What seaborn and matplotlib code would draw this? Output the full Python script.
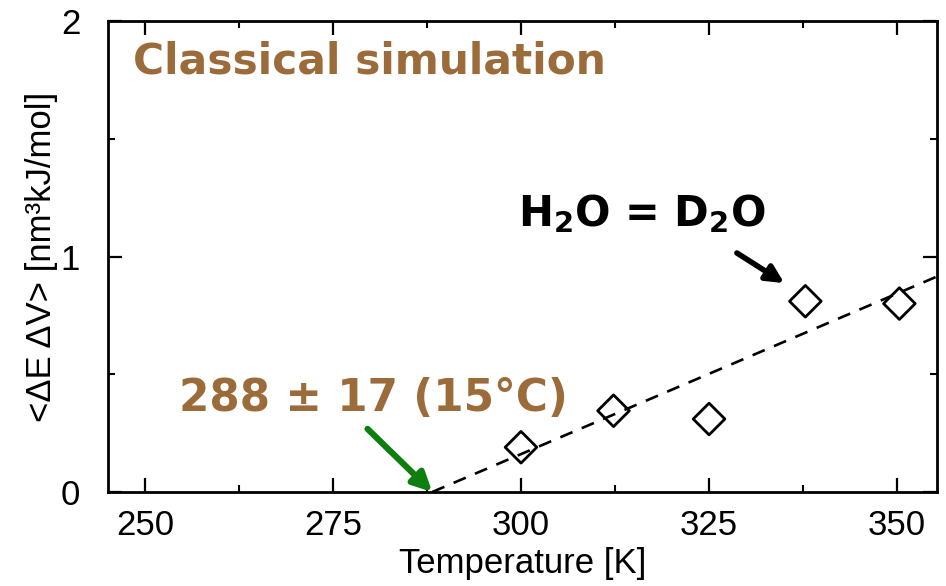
import matplotlib
matplotlib.use("Agg")
import matplotlib.pyplot as plt
import seaborn as sns
import pandas as pd
from matplotlib.ticker import MultipleLocator

# ---- data ----
temps = [300.0, 312.3, 325.0, 337.8, 350.3]
dEdV = [0.19, 0.345, 0.31, 0.81, 0.80]
fit_T = [288.2, 355.3]
fit_y = [0.0, 0.915]
x_ticks = [250, 275, 300, 325, 350]
y_ticks = [0, 1, 2]

brown = "#9C6B3A"
green = "#0E7E0E"

sns.set_theme(style="ticks")
plt.rcParams["font.family"] = ["Liberation Sans", "DejaVu Sans"]
plt.rcParams["mathtext.fontset"] = "dejavusans"
plt.rcParams["text.color"] = "black"
plt.rcParams["axes.labelcolor"] = "black"

fig = plt.figure(figsize=(9.46, 5.86), dpi=100)
ax = fig.add_axes([108 / 946, 1 - 492 / 586, (937 - 108) / 946, (492 - 21) / 586])

pts = pd.DataFrame({"T": temps, "v": dEdV})
fit = pd.DataFrame({"T": fit_T, "v": fit_y})

sns.lineplot(data=fit, x="T", y="v", ax=ax, color="black", lw=1.9,
             dashes=False, linestyle=(0, (5.0, 3.8)))
sns.scatterplot(data=pts, x="T", y="v", ax=ax, marker="D", s=260,
                facecolor="none", edgecolor="black", linewidth=2.0, zorder=3)

ax.set_xlim(245.1, 355.3)
ax.set_ylim(0, 2)
ax.set_xticks(x_ticks)
ax.set_yticks(y_ticks)
ax.xaxis.set_minor_locator(MultipleLocator(12.5))
ax.yaxis.set_minor_locator(MultipleLocator(0.5))
ax.tick_params(which="both", direction="in", top=True, right=True, colors="black",
               labelsize=25, labelcolor="black")
ax.tick_params(which="major", length=10, width=1.6)
ax.tick_params(which="minor", length=5, width=1.5)
ax.tick_params(axis="x", which="major", pad=12)
ax.tick_params(axis="y", which="major", pad=20)
for s in ax.spines.values():
    s.set_linewidth(2)
    s.set_color("black")

ax.set_xlabel("Temperature [K]", fontsize=25, labelpad=4, color="black")
ax.set_ylabel("<ΔE ΔV> [nm³kJ/mol]", fontsize=25, labelpad=2, color="black")

ax.text(0.030, 0.889, "Classical simulation", transform=ax.transAxes,
        fontsize=30.5, fontweight="bold", color=brown, family="DejaVu Sans",
        va="baseline", ha="left")
ax.text(0.0857, 0.172, "288 ± 17 (15°C)", transform=ax.transAxes,
        fontsize=31.5, fontweight="bold", color=brown, family="DejaVu Sans",
        va="baseline", ha="left")
ax.text(0.4946, 0.564, r"H$_\mathbf{2}$O = D$_\mathbf{2}$O", transform=ax.transAxes,
        fontsize=30, fontweight="bold", color="black", family="DejaVu Sans",
        va="baseline", ha="left")

ax.annotate("", xy=(288.2, 0.0), xytext=(279.6, 0.268),
            arrowprops=dict(arrowstyle="-|>", lw=4.5, color=green,
                            mutation_scale=28, shrinkA=0, shrinkB=0))
ax.annotate("", xy=(335.0, 0.887), xytext=(328.7, 1.015),
            arrowprops=dict(arrowstyle="-|>", lw=4, color="black",
                            mutation_scale=26, shrinkA=0, shrinkB=0))

fig.savefig("out.png", dpi=100)
